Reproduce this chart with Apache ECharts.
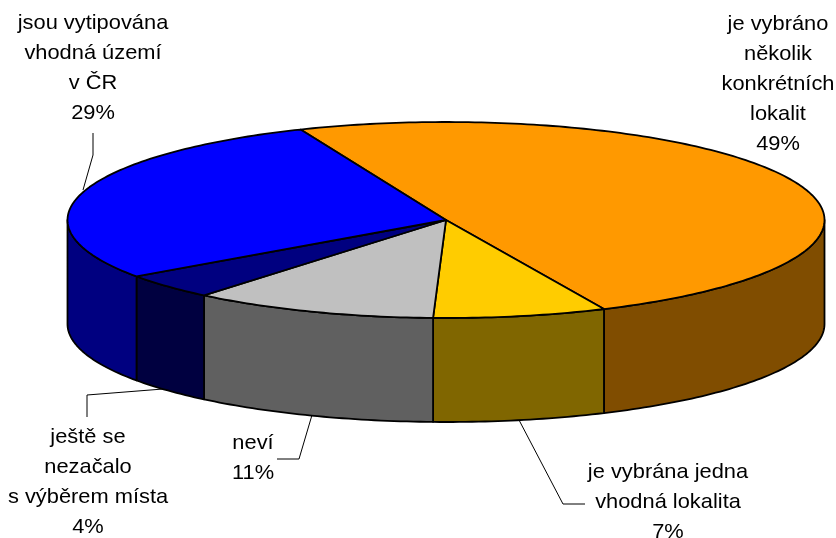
<!DOCTYPE html>
<html>
<head>
<meta charset="utf-8">
<style>html,body{margin:0;padding:0;background:#fff}#c{width:836px;height:538px}</style>
<script src="https://cdn.jsdelivr.net/npm/echarts@6/dist/echarts.min.js"></script>
</head>
<body>
<div id="c"></div>
<script>
var categories = ['je vybráno\nněkolik\nkonkrétních\nlokalit', 'je vybrána jedna\nvhodná lokalita', 'neví', 'ještě se\nnezačalo\ns výběrem místa', 'jsou vytipována\nvhodná území\nv ČR'];
var values = [49.45, 7.4, 10.5, 4.2, 28.5];
var topColors = ['#FF9900', '#FFCC00', '#C0C0C0', '#000080', '#0000FF'];
var wallColors = ['#804D00', '#806600', '#606060', '#000040', '#000080'];

var pie = { cx: 446, cy: 220, rx: 378.5, ry: 98, depth: 104, startAngle: 337.4 };
var labelPos = [[778, 9], [668, 457], [253, 428], [88, 422], [93, 8]];
var leaders = [
  null,
  [[585, 504], [563, 504], [519, 420]],
  [[277, 459], [299, 459], [312, 415]],
  [[87, 417], [87, 395], [163, 389]],
  [[93, 133], [93, 155], [83, 190]]
];
var FONT = '21px "Liberation Sans", Arial, sans-serif';
var TEXT_STRETCH = 1.04;

var total = values.reduce(function (a, b) { return a + b; }, 0);
function bounds(i) {
  var before = 0;
  for (var k = 0; k < i; k++) before += values[k];
  var a0 = pie.startAngle + before / total * 360;
  return [a0, a0 + values[i] / total * 360];
}
function pt(deg, dy) {
  var r = deg * Math.PI / 180;
  return [pie.cx + pie.rx * Math.sin(r), pie.cy - pie.ry * Math.cos(r) + (dy || 0)];
}
function arc(a0, a1, dy) {
  var pts = [], n = Math.max(2, Math.ceil(Math.abs(a1 - a0)));
  for (var i = 0; i <= n; i++) pts.push(pt(a0 + (a1 - a0) * i / n, dy));
  return pts;
}
var edge = { stroke: '#000', lineWidth: 1.8, lineJoin: 'round' };

function renderWall(params) {
  var b = bounds(params.dataIndex), kids = [];
  [[90, 270], [450, 630]].forEach(function (f) {
    var a0 = Math.max(b[0], f[0]), a1 = Math.min(b[1], f[1]);
    if (a1 <= a0) return;
    var pts = arc(a0, a1, 0).concat(arc(a1, a0, pie.depth));
    kids.push({
      type: 'polygon', shape: { points: pts },
      style: Object.assign({ fill: wallColors[params.dataIndex] }, edge)
    });
  });
  return { type: 'group', children: kids };
}
function renderTop(params) {
  var i = params.dataIndex, b = bounds(i);
  var pts = [[pie.cx, pie.cy]].concat(arc(b[0], b[1], 0));
  return {
    type: 'polygon', shape: { points: pts },
    style: Object.assign({ fill: topColors[i] }, edge)
  };
}
function renderLabel(params) {
  var i = params.dataIndex, kids = [];
  if (leaders[i]) kids.push({
    type: 'polyline', shape: { points: leaders[i] },
    style: { fill: null, stroke: '#000', lineWidth: 1 }
  });
  kids.push({
    type: 'text', x: labelPos[i][0], y: labelPos[i][1], scaleX: TEXT_STRETCH,
    style: {
      text: categories[i] + '\n' + Math.round(values[i]) + '%',
      font: FONT, fill: '#000', align: 'center', verticalAlign: 'top', lineHeight: 30
    }
  });
  return { type: 'group', children: kids };
}
var seriesData = values.map(function (v, i) { return { name: categories[i], value: v }; });

var chart = echarts.init(document.getElementById('c'), null, { renderer: 'canvas' });
chart.setOption({
  animation: false,
  backgroundColor: '#fff',
  series: [
    { type: 'custom', name: 'walls', coordinateSystem: 'none', renderItem: renderWall, data: seriesData, silent: true, z: 1 },
    { type: 'custom', name: 'tops', coordinateSystem: 'none', renderItem: renderTop, data: seriesData, silent: true, z: 2 },
    { type: 'custom', name: 'labels', coordinateSystem: 'none', renderItem: renderLabel, data: seriesData, silent: true, z: 3 }
  ]
});
</script>
</body>
</html>
